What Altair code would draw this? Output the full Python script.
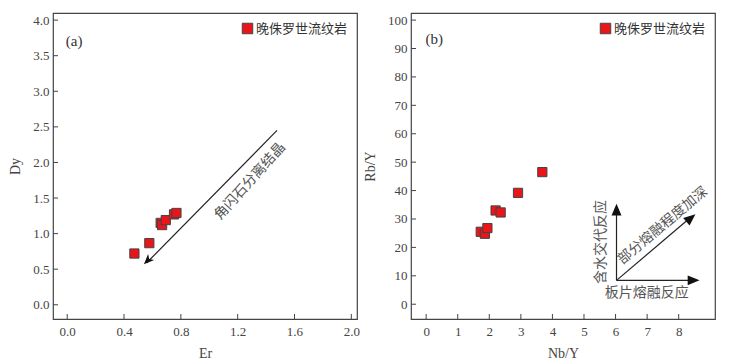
import altair as alt
import pandas as pd

# ---- data ----
legend_label = "晚侏罗世流纹岩"
er = [0.473, 0.578, 0.658, 0.668, 0.694, 0.752, 0.769]
dy = [0.72, 0.866, 1.15, 1.12, 1.19, 1.27, 1.29]
nby = [1.73, 1.86, 1.94, 2.20, 2.36, 2.91, 3.68]
rby = [25.5, 24.8, 26.8, 33.0, 32.3, 39.2, 46.5]

a_xticks = [0.0, 0.4, 0.8, 1.2, 1.6, 2.0]
a_yticks = [0.0, 0.5, 1.0, 1.5, 2.0, 2.5, 3.0, 3.5, 4.0]
b_xticks = [0, 1, 2, 3, 4, 5, 6, 7, 8]
b_yticks = [0, 10, 20, 30, 40, 50, 60, 70, 80, 90, 100]

W, H = 304, 306
RED = "#e8151b"
GRAY = "#444444"
SERIF = "Liberation Serif"
CJK = "Noto Sans CJK SC"

ARROW_CONCAVE = "M0,0 L0.42,1 L0,0.72 L-0.42,1 Z"
ARROW_SOLID = "M0,0 L0.42,1 L-0.42,1 Z"


def panel(xs, ys, xname, yname, xdom, ydom, xticks, yticks, fmt, tag, tagpos,
          arrows, heads, texts):
    df = pd.DataFrame({"x": xs, "y": ys, "s": [legend_label] * len(xs)})
    xsc = alt.Scale(domain=xdom, nice=False, zero=False)
    ysc = alt.Scale(domain=ydom, nice=False, zero=False)
    xax = alt.Axis(values=xticks, format=fmt[0], labelPadding=6, titlePadding=8,
                   labelFlush=False, labelOverlap=False, labelSeparation=0,
                   ticks=False, domain=False, grid=False)
    yax = alt.Axis(values=yticks, format=fmt[1], labelPadding=4, titlePadding=10,
                   labelFlush=False, labelOverlap=False, labelSeparation=0,
                   ticks=False, domain=False, grid=False)

    def X(f="x"):
        return alt.X(f + ":Q", scale=xsc, axis=xax, title=xname)

    def Y(f="y"):
        return alt.Y(f + ":Q", scale=ysc, axis=yax, title=yname)

    pts = alt.Chart(df).mark_point(shape="square", filled=True, size=85,
                                   stroke=GRAY, strokeWidth=1, opacity=1).encode(
        x=X(), y=Y(),
        color=alt.Color("s:N", scale=alt.Scale(domain=[legend_label], range=[RED]),
                        legend=alt.Legend(title=None, orient="top-right",
                                          offset=9, symbolType="square",
                                          symbolSize=110, symbolStrokeColor=GRAY,
                                          symbolStrokeWidth=1, symbolOpacity=1,
                                          labelFont=CJK, labelFontSize=13,
                                          labelColor="#333", labelOffset=2,
                                          padding=0)),
    )

    xt = alt.Chart(pd.DataFrame({"x": xticks})).mark_rule(color=GRAY, strokeWidth=1).encode(
        x=X(), y=alt.value(H), y2=alt.value(H - 5))
    yt = alt.Chart(pd.DataFrame({"y": yticks})).mark_rule(color=GRAY, strokeWidth=1).encode(
        y=Y(), x=alt.value(0), x2=alt.value(5))

    tagc = alt.Chart(pd.DataFrame({"x": [tagpos[0]], "y": [tagpos[1]], "t": [tag]})).mark_text(
        font=SERIF, fontSize=15, color="#333", align="left", baseline="middle").encode(
        x=X(), y=Y(), text="t:N")

    arr = alt.Chart(pd.DataFrame(arrows, columns=["x", "y", "x2", "y2"])).mark_rule(
        color="#222", strokeWidth=1.2).encode(
        x=X(), y=Y(), x2="x2:Q", y2="y2:Q")

    hd = alt.Chart(pd.DataFrame(heads, columns=["x", "y", "ang", "shape", "size"])).mark_point(
        filled=True, color="#111", opacity=1, strokeWidth=0).encode(
        x=X(), y=Y(),
        angle=alt.Angle("ang:Q", scale=None), shape=alt.Shape("shape:N", scale=None),
        size=alt.Size("size:Q", scale=None))

    txt = alt.Chart(pd.DataFrame(texts, columns=["x", "y", "t", "ang"])).mark_text(
        font=CJK, fontSize=14, color="#555", align="center", baseline="middle").encode(
        x=X(), y=Y(), text="t:N",
        angle=alt.Angle("ang:Q", scale=None))

    return alt.layer(pts, arr, hd, txt, xt, yt, tagc).properties(width=W, height=H)


pa = panel(er, dy, "Er", "Dy", [-0.1, 2.04], [-0.2, 4.1], a_xticks, a_yticks,
           (".1f", ".1f"), "(a)", (-0.01, 3.7),
           arrows=[[1.477, 2.45, 0.56, 0.59]],
           heads=[[0.54, 0.57, 225, ARROW_CONCAVE, 420]],
           texts=[[1.287, 1.733, "角闪石分离结晶", 312]])

pb = panel(nby, rby, "Nb/Y", "Rb/Y", [-0.48, 9.15], [-5.2, 102.5], b_xticks, b_yticks,
           ("d", "d"), "(b)", (-0.02, 93.3),
           arrows=[[6.03, 8.4, 6.03, 33.0], [6.03, 8.4, 8.35, 8.4], [6.03, 8.4, 8.3, 29.8]],
           heads=[[6.03, 35.4, 0, ARROW_SOLID, 560],
                  [8.66, 8.4, 90, ARROW_SOLID, 560],
                  [8.53, 31.7, 50, ARROW_SOLID, 560]],
           texts=[[5.55, 21.9, "含水交代反应", 270],
                  [7.5, 27.6, "部分熔融程度加深", 320],
                  [6.99, 4.1, "板片熔融反应", 0]])

chart = alt.hconcat(pa, pb, spacing=1).resolve_scale(color="independent").resolve_legend(
    color="independent").properties(
    padding={"left": 0, "top": 4, "right": 5, "bottom": 5}
).configure(background="white").configure_view(stroke=GRAY, strokeWidth=1.2).configure_axis(
    labelFont=SERIF, labelFontSize=13, labelColor="#444", labelOverlap=False,
    titleFont=SERIF, titleFontSize=14, titleFontWeight="normal", titleColor="#444"
)

chart.save("out.html", embed_options={"renderer": "svg", "actions": False})
